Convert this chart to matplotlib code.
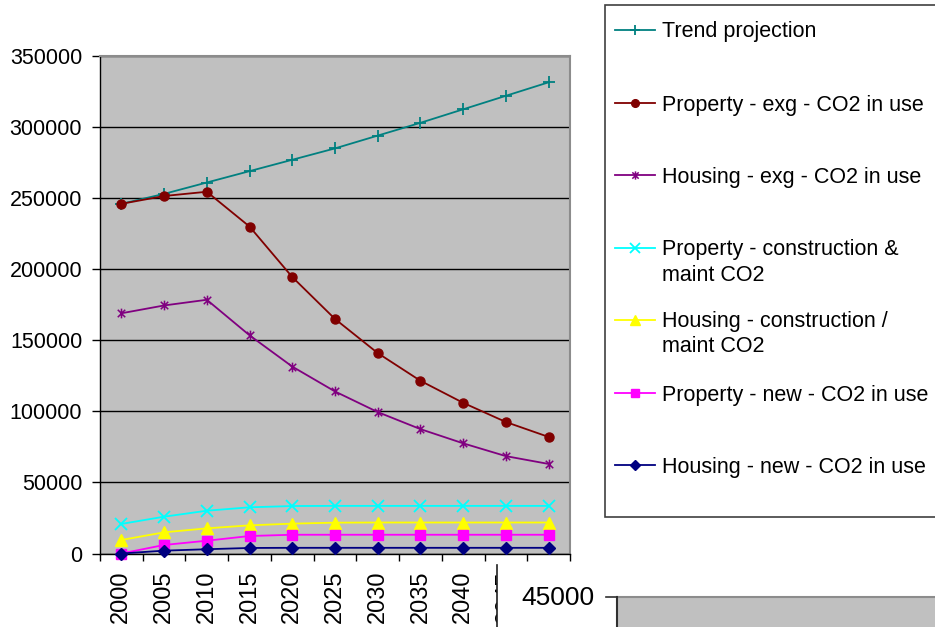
import matplotlib
matplotlib.use("Agg")
import matplotlib.pyplot as plt
from matplotlib.lines import Line2D
from matplotlib.patches import Rectangle
from matplotlib.path import Path
from matplotlib.transforms import Bbox

plt.rcParams['font.family'] = ['Liberation Sans', 'DejaVu Sans']

# ---- data -------------------------------------------------------------
years = ['2000', '2005', '2010', '2015', '2020', '2025', '2030', '2035', '2040', '2045', '2050']

trend_projection = [246000, 253000, 261000, 269000, 277000, 285000, 294000, 303000, 312500, 322000, 331500]
property_exg     = [246000, 251500, 254500, 230000, 194500, 165000, 141000, 121500, 106000, 92500, 82000]
housing_exg      = [169000, 174500, 178500, 153500, 131500, 114000, 99500, 87500, 77500, 68500, 63000]
property_constr  = [20800, 25900, 30100, 32500, 33400, 33500, 33500, 33500, 33500, 33500, 33500]
housing_constr   = [9500, 14900, 17700, 19800, 21000, 21700, 21800, 21800, 21800, 21800, 21800]
property_new     = [0, 6000, 9000, 12300, 13200, 13200, 13200, 13200, 13200, 13200, 13200]
housing_new      = [0, 2000, 3000, 3900, 4000, 4000, 4000, 4000, 4000, 4000, 4000]

series_labels = [
    'Trend projection',
    'Property - exg - CO2 in use',
    'Housing - exg - CO2 in use',
    'Property - construction &\nmaint CO2',
    'Housing - construction /\nmaint CO2',
    'Property - new - CO2 in use',
    'Housing - new - CO2 in use',
]
series_values = [trend_projection, property_exg, housing_exg, property_constr,
                 housing_constr, property_new, housing_new]

y_ticks = [0, 50000, 100000, 150000, 200000, 250000, 300000, 350000]
side_value_label = '45000'

# ---- styles -----------------------------------------------------------
asterisk = Path([(-1, -1), (1, 1), (-1, 1), (1, -1), (0, -1.3), (0, 1.3)],
                [Path.MOVETO, Path.LINETO, Path.MOVETO, Path.LINETO, Path.MOVETO, Path.LINETO])

styles = [
    dict(color='#008080', marker='+', ms=9, mew=1.3, mfc='#008080'),
    dict(color='#800000', marker='o', ms=6.5, mew=1.0, mfc='#800000'),
    dict(color='#800080', marker=asterisk, ms=7, mew=1.1, mfc='none'),
    dict(color='#00FFFF', marker='x', ms=8, mew=1.3, mfc='#00FFFF'),
    dict(color='#FFFF00', marker='^', ms=8, mew=1.0, mfc='#FFFF00'),
    dict(color='#FF00FF', marker='s', ms=7, mew=1.0, mfc='#FF00FF'),
    dict(color='#000080', marker='D', ms=6, mew=1.0, mfc='#000080'),
]

W, H = 935, 627
fig = plt.figure(figsize=(W / 100, H / 100), dpi=100)


def fx(x):
    return x / W


def fy(y):
    return 1 - y / H


# ---- axes -------------------------------------------------------------
ax_left, ax_right, ax_top, ax_bottom = 100, 570, 56, 553.5
ax = fig.add_axes([fx(ax_left), fy(ax_bottom), (ax_right - ax_left) / W, (ax_bottom - ax_top) / H])
ax.set_facecolor('#C0C0C0')

xpos = list(range(len(years)))
for vals, st in zip(series_values, styles):
    ax.plot(xpos, vals, color=st['color'], lw=1.3, marker=st['marker'],
            markersize=st['ms'], markeredgewidth=st['mew'],
            markerfacecolor=st['mfc'], markeredgecolor=st['color'], clip_on=False, zorder=3)

ax.set_xlim(-0.5, len(years) - 0.5)
ax.set_ylim(0, 350000)
ax.set_yticks(y_ticks)
ax.set_yticklabels([str(v) for v in y_ticks], fontsize=15.5)
ax.yaxis.grid(True, color='black', lw=1.0)
ax.set_axisbelow(True)

# ticks at category boundaries, labels at category centres
ax.set_xticks([i - 0.5 for i in range(len(years) + 1)])
ax.set_xticklabels([])
ax.set_xticks(xpos, minor=True)
ax.set_xticklabels(years, minor=True, rotation=90, fontsize=17)
ax.tick_params(axis='x', which='major', length=5.2, width=1, direction='out')
ax.tick_params(axis='x', which='minor', length=0, pad=12.5)
ax.tick_params(axis='y', length=5.8, width=1, direction='out', pad=7)

for side in ('left', 'bottom'):
    ax.spines[side].set_color('black')
    ax.spines[side].set_linewidth(1.0)
for side in ('top', 'right'):
    ax.spines[side].set_color('#8C8C8C')
    ax.spines[side].set_linewidth(1.5)

# the last category labels run under the panel in the lower right:
# clip them at its edge, and hide the one lying wholly beneath it
panel_x = 497
clip = Bbox.from_extents(0, 0, panel_x, H)
for lbl in ax.get_xticklabels(minor=True):
    lbl.set_clip_box(clip)
    lbl.set_clip_on(True)
ax.get_xticklabels(minor=True)[-1].set_visible(False)

# ---- legend box -------------------------------------------------------
fig.add_artist(Rectangle((fx(605), fy(517)), (W + 10 - 605) / W, (517 - 5) / H,
                         transform=fig.transFigure, facecolor='white',
                         edgecolor='#404040', lw=1.2, zorder=5))
entry_y = [30, 103, 175, 248, 320, 393, 465]
for lab, st, yy in zip(series_labels, styles, entry_y):
    fig.add_artist(Line2D([fx(615), fx(655)], [fy(yy), fy(yy)], transform=fig.transFigure,
                          color=st['color'], lw=1.3, zorder=6))
    fig.add_artist(Line2D([fx(635)], [fy(yy)], transform=fig.transFigure,
                          color=st['color'], marker=st['marker'], markersize=st['ms'] * 0.85,
                          markeredgewidth=st['mew'], markerfacecolor=st['mfc'],
                          markeredgecolor=st['color'], zorder=7))
    for k, line in enumerate(lab.split('\n')):
        fig.text(fx(662), fy(yy + 7.5 + 25 * k), line, fontsize=15.5, ha='left',
                 va='baseline', zorder=7)

# ---- overlapping panel in the lower right -----------------------------
fig.add_artist(Rectangle((fx(panel_x), 0), (W - panel_x) / W, (H - 565) / H,
                         transform=fig.transFigure, facecolor='white',
                         edgecolor='none', zorder=8))
fig.add_artist(Line2D([fx(panel_x), fx(panel_x)], [fy(565), 0], transform=fig.transFigure,
                      color='#202020', lw=1.2, zorder=9))
fig.text(fx(594), fy(598), side_value_label, fontsize=19, ha='right', va='center', zorder=9)
fig.add_artist(Line2D([fx(606), fx(618)], [fy(597), fy(597)], transform=fig.transFigure,
                      color='#303030', lw=1.2, zorder=9))
fig.add_artist(Rectangle((fx(617), 0), (W + 10 - 617) / W, (H - 597) / H,
                         transform=fig.transFigure, facecolor='#C0C0C0',
                         edgecolor='none', zorder=9))
fig.add_artist(Line2D([fx(617), fx(W)], [fy(597), fy(597)], transform=fig.transFigure,
                      color='#8C8C8C', lw=1.5, zorder=10))
fig.add_artist(Line2D([fx(617), fx(617)], [fy(597), 0], transform=fig.transFigure,
                      color='#303030', lw=1.5, zorder=10))

fig.savefig('out.png', dpi=100)
